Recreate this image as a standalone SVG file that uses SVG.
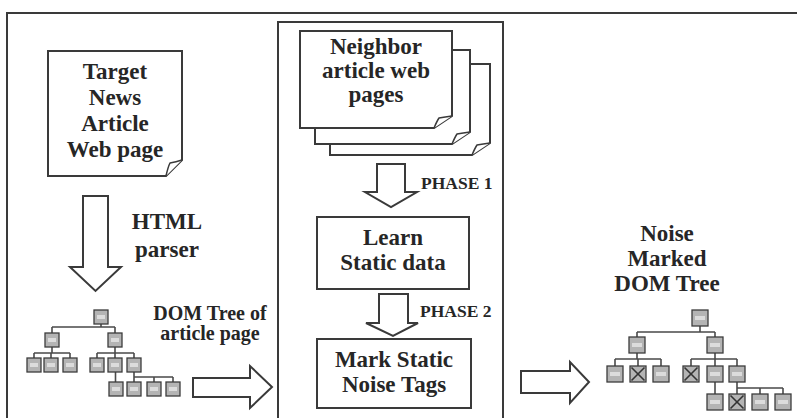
<svg xmlns="http://www.w3.org/2000/svg" xmlns:xlink="http://www.w3.org/1999/xlink" width="797" height="418" viewBox="0 0 797 418">
  <defs>
    <style>
      .frame { fill: none; stroke: #3a3a3a; stroke-width: 2; }
      .doc { fill: #ffffff; stroke: #3a3a3a; stroke-width: 2; stroke-linejoin: miter; }
      .flap { fill: #ffffff; stroke: #3a3a3a; stroke-width: 1.5; stroke-linejoin: round; }
      .box { fill: #ffffff; stroke: #3a3a3a; stroke-width: 2; }
      .blk { fill: #ffffff; stroke: #3a3a3a; stroke-width: 2; stroke-linejoin: miter; }
      .t { font-family: "Liberation Serif", "Times New Roman", serif; font-weight: bold; fill: #262626; text-anchor: middle; }
      .big { font-size: 23px; }
      .mid { font-size: 20px; }
      .sm { font-size: 17.5px; text-anchor: start; }
      .edge { fill: none; stroke: #4a4a4a; stroke-width: 1.6; }
      .tag { fill: #b4b4b4; stroke: #3c3c3c; stroke-width: 1.3; }
      .lbl { fill: #dcdcdc; }
      .cross { stroke: #333333; stroke-width: 1.6; }
    </style>
    <!-- small DOM tag box (left tree) -->
    <symbol id="tagS" overflow="visible">
      <rect class="tag" x="0" y="0" width="14" height="14"/>
      <rect class="lbl" x="3" y="5" width="8" height="4"/>
    </symbol>
    <!-- DOM tag box (right tree) -->
    <symbol id="tagM" overflow="visible">
      <rect class="tag" x="0" y="0" width="16" height="16"/>
      <rect class="lbl" x="3" y="6" width="10" height="4"/>
    </symbol>
    <!-- tag box marked as noise -->
    <symbol id="tagX" overflow="visible">
      <rect class="tag" x="0" y="0" width="16" height="16"/>
      <line class="cross" x1="1.5" y1="1.5" x2="14.5" y2="14.5"/>
      <line class="cross" x1="14.5" y1="1.5" x2="1.5" y2="14.5"/>
    </symbol>
  </defs>

  <rect x="0" y="0" width="797" height="418" fill="#ffffff"/>

  <!-- outer frame and middle panel -->
  <g id="frames">
    <path class="frame" d="M7,418 V13 H797"/>
    <path class="frame" d="M278,418 V22 H503 V418"/>
  </g>

  <!-- input document -->
  <g id="target-page">
    <path class="doc" d="M48,51 H182 V160 L166,176 H48 Z"/>
    <path class="flap" d="M166,176 Q168,167 170,163 Q176,162 182,160"/>
    <text class="t big" x="115" y="79">Target</text>
    <text class="t big" x="115" y="105">News</text>
    <text class="t big" x="115" y="131">Article</text>
    <text class="t big" x="115" y="157">Web page</text>
  </g>

  <!-- stacked neighbour pages -->
  <g id="neighbor-pages">
    <path class="doc" d="M330,64 H490 V143 L472,155 H330 Z"/>
    <path class="flap" d="M472,155 Q475,148 477,145 Q483,144 490,143"/>
    <path class="doc" d="M315,50 H470 V132 L452,144 H315 Z"/>
    <path class="flap" d="M452,144 Q455,137 457,134 Q463,133 470,132"/>
    <path class="doc" d="M300,31 H452 V116 L434,128 H300 Z"/>
    <path class="flap" d="M434,128 Q437,121 439,118 Q445,117 452,116"/>
    <text class="t big" x="376" y="54">Neighbor</text>
    <text class="t big" x="376" y="78">article web</text>
    <text class="t big" x="376" y="102">pages</text>
  </g>

  <g id="learn-static">
    <rect class="box" x="317" y="217" width="152" height="72"/>
    <text class="t big" x="393" y="245">Learn</text>
    <text class="t big" x="393" y="270">Static data</text>
  </g>

  <g id="mark-noise">
    <rect class="box" x="317" y="339" width="154" height="69"/>
    <text class="t big" x="394" y="367">Mark Static</text>
    <text class="t big" x="394" y="392">Noise Tags</text>
  </g>

  <g id="output-label">
    <text class="t big" x="667" y="241">Noise</text>
    <text class="t big" x="667" y="266">Marked</text>
    <text class="t big" x="667" y="291">DOM Tree</text>
  </g>

  <!-- block arrows and their labels -->
  <g id="connectors">
    <g id="arrow-parser">
      <path class="blk" d="M83,196 H108 V267 H121 L95.5,291 L70,267 H83 Z"/>
      <text class="t big" x="167" y="229">HTML</text>
      <text class="t big" x="167" y="257">parser</text>
    </g>
    <g id="arrow-phase1">
      <path class="blk" d="M377,164 H405 V192 H417 L391,207 L365,192 H377 Z"/>
      <text class="t sm" x="421" y="189">PHASE 1</text>
    </g>
    <g id="arrow-phase2">
      <path class="blk" d="M379,294 H408 V323 H418 L393,336 L366,323 H379 Z"/>
      <text class="t sm" x="420" y="317">PHASE 2</text>
    </g>
    <g id="arrow-in">
      <path class="blk" d="M193,378 H250 V366 L272,387 L250,408 V397 H193 Z"/>
      <text class="t mid" x="210" y="320">DOM Tree of</text>
      <text class="t mid" x="210" y="340">article page</text>
    </g>
    <g id="arrow-out">
      <path class="blk" d="M521,371 H570 V362 L589,382 L570,403 V393 H521 Z"/>
    </g>

    <!-- edges of the input DOM tree -->
    <g id="input-tree-edges">
      <path class="edge" d="M101,324 V327 M52,327 H115 M52,327 V333 M115,327 V333"/>
      <path class="edge" d="M52,347 V353 M34,353 H70 M34,353 V358 M51,353 V358 M70,353 V358"/>
      <path class="edge" d="M115,347 V353 M97,353 H134 M97,353 V358 M115,353 V358 M134,353 V358"/>
      <path class="edge" d="M115.5,372 V382"/>
      <path class="edge" d="M134,372 V377 M134,377 H173 M134,377 V382 M154,377 V382 M173,377 V382"/>
    </g>

    <!-- edges of the marked DOM tree -->
    <g id="output-tree-edges">
      <path class="edge" d="M700,326 V332 M637,332 H715 M637,332 V337 M715,332 V337"/>
      <path class="edge" d="M637,353 V359 M615,359 H661 M615,359 V366 M638,359 V366 M661,359 V366"/>
      <path class="edge" d="M715,353 V359 M691,359 H737 M691,359 V366 M715,359 V366 M737,359 V366"/>
      <path class="edge" d="M715,382 V394"/>
      <path class="edge" d="M737,382 V394 M737,388 H783 M760,388 V394 M783,388 V394"/>
    </g>
  </g>

  <!-- input DOM tree tags -->
  <g id="input-tree">
    <g id="in-html"><use xlink:href="#tagS" x="94" y="310"/></g>
    <g id="in-head"><use xlink:href="#tagS" x="45" y="333"/></g>
    <g id="in-body"><use xlink:href="#tagS" x="108" y="333"/></g>
    <g id="in-l3-1"><use xlink:href="#tagS" x="27" y="358"/></g>
    <g id="in-l3-2"><use xlink:href="#tagS" x="44" y="358"/></g>
    <g id="in-l3-3"><use xlink:href="#tagS" x="63" y="358"/></g>
    <g id="in-l3-4"><use xlink:href="#tagS" x="90" y="358"/></g>
    <g id="in-l3-5"><use xlink:href="#tagS" x="108" y="358"/></g>
    <g id="in-l3-6"><use xlink:href="#tagS" x="127" y="358"/></g>
    <g id="in-l4-1"><use xlink:href="#tagS" x="109" y="382"/></g>
    <g id="in-l4-2"><use xlink:href="#tagS" x="127" y="382"/></g>
    <g id="in-l4-3"><use xlink:href="#tagS" x="147" y="382"/></g>
    <g id="in-l4-4"><use xlink:href="#tagS" x="166" y="382"/></g>
  </g>

  <!-- marked DOM tree tags -->
  <g id="output-tree">
    <g id="out-html"><use xlink:href="#tagM" x="692" y="310"/></g>
    <g id="out-head"><use xlink:href="#tagM" x="629" y="337"/></g>
    <g id="out-body"><use xlink:href="#tagM" x="707" y="337"/></g>
    <g id="out-l3-1"><use xlink:href="#tagM" x="607" y="366"/></g>
    <g id="out-l3-2"><use xlink:href="#tagX" x="630" y="366"/></g>
    <g id="out-l3-3"><use xlink:href="#tagM" x="653" y="366"/></g>
    <g id="out-l3-4"><use xlink:href="#tagX" x="683" y="366"/></g>
    <g id="out-l3-5"><use xlink:href="#tagM" x="707" y="366"/></g>
    <g id="out-l3-6"><use xlink:href="#tagM" x="729" y="366"/></g>
    <g id="out-l4-1"><use xlink:href="#tagM" x="707" y="394"/></g>
    <g id="out-l4-2"><use xlink:href="#tagX" x="729" y="394"/></g>
    <g id="out-l4-3"><use xlink:href="#tagM" x="752" y="394"/></g>
    <g id="out-l4-4"><use xlink:href="#tagM" x="775" y="394"/></g>
  </g>
</svg>
